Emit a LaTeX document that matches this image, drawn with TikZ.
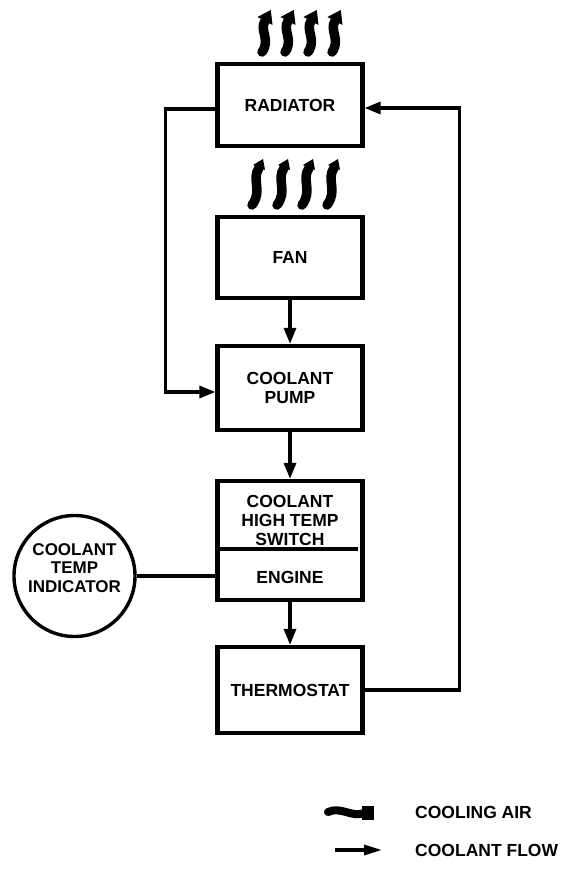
\documentclass[tikz,border=0pt]{standalone}
\usepackage{fontspec}
\setmainfont{Liberation Sans}
\usetikzlibrary{arrows.meta}
\begin{document}
\begin{tikzpicture}[x=1pt,y=-1pt,
  lbl/.style={align=center, inner sep=0pt, font=\fontsize{17.5}{19}\selectfont\bfseries},
  box/.style={lbl, draw, line width=4.2pt, minimum width=145pt},
  flow/.style={line width=3.2pt, -{Triangle[length=16pt,width=12pt]}},
  link/.style={line width=3.2pt},
  airstroke/.style={line width=9.5pt, line cap=round},
  airup/.pic={
    \draw[airstroke] (0,0) .. controls (9,-12) and (-3,-22) .. (3,-31);
    \fill (10.5,-27) -- (8.8,-42) -- (-4.5,-35) -- cycle;},
  airmid/.pic={
    \draw[airstroke] (0,0) .. controls (11,-14) and (-1,-26) .. (7,-37);
    \fill (13,-35) -- (11,-46) -- (1,-40) -- cycle;}
]
\useasboundingbox (0,0) rectangle (576,877);

% boxes
\node[box, minimum height=82pt] (rad) at (290,105) {RADIATOR};
\node[box, minimum height=81pt] (fan) at (290,257.5) {FAN};
\node[box, minimum height=84pt] (pump) at (290,388) {COOLANT\\PUMP};
\node[box, minimum height=119pt] (eng) at (290,540.5) {};
\node[lbl] (sw) at (290,520) {COOLANT\\HIGH TEMP\\SWITCH};
\node[lbl] (engl) at (290,577) {ENGINE};
\draw[link] ([shift={(5pt,-8.5pt)}]eng.west) -- ([shift={(-7pt,-8.5pt)}]eng.east);
\node[box, minimum height=86pt] (thermo) at (290,690) {THERMOSTAT};

% indicator
\node[draw, circle, line width=3.4pt, minimum size=121pt, inner sep=0pt] (ind) at (74.5,576) {};
\node[lbl, font=\fontsize{17}{18.5}\selectfont\bfseries] (indt) at (74.5,568) {COOLANT\\TEMP\\INDICATOR};
\draw[link] (ind.east) -- (ind.east -| eng.west);

% coolant flow
\draw[flow] (fan.south) -- (pump.north);
\draw[flow] (pump.south) -- (eng.north);
\draw[flow] (eng.south) -- (thermo.north);
\draw[flow] ([yshift=-4pt]rad.west) -- ++(-50,0) |- ([yshift=-4pt]pump.west);
\draw[flow] (thermo.east) -- ++(95,0) |- ([yshift=-3pt]rad.east);

% cooling air above radiator
\foreach \x in {262,285,308,332} \pic at (\x,52) {airup};
% cooling air above fan
\foreach \x in {252,277,302,327} \pic at (\x,205) {airmid};

% legend
\coordinate (la) at (328,812);
\draw[line width=8pt, line cap=round] (la) .. controls +(13,-6) and +(-12,5) .. ++(36,1);
\fill ([shift={(34pt,6.5pt)}]la) rectangle ([shift={(46pt,-7.5pt)}]la);
\node[lbl, anchor=west] (l1) at (415,812) {COOLING AIR};
\coordinate (lf1) at (335,850);
\coordinate (lf2) at (382,850);
\draw[flow, -{Triangle[length=18pt,width=10pt]}] (lf1) -- (lf2);
\node[lbl, anchor=west] (l2) at (415,850) {COOLANT FLOW};
\end{tikzpicture}
\end{document}
